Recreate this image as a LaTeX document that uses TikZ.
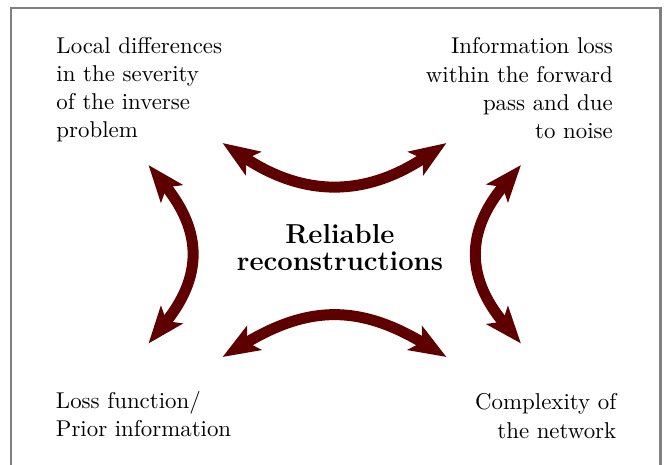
\documentclass[tikz,border=0pt]{standalone}
\usetikzlibrary{arrows.meta}
\definecolor{arrowred}{RGB}{94,0,0}
\definecolor{framegray}{RGB}{128,128,128}
\begin{document}
\begin{tikzpicture}[x=0.4373pt, y=-0.4373pt,
  lbl/.style={inner sep=0pt, font=\fontsize{10}{12.3}\selectfont},
  title/.style={inner sep=0pt, align=center, font=\bfseries\fontsize{12}{11.8}\selectfont},
  arr/.style={draw=arrowred, line width=4.8pt,
    arrows={Stealth[length=16pt,width=12pt,inset=3.5pt]-Stealth[length=16pt,width=12pt,inset=3.5pt]}},
  framebox/.style={draw=framegray, line width=1.1pt}]
\useasboundingbox (0,0) rectangle (667,464);
\draw[framebox] (11,8) rectangle (660.5,480);
% text blocks
\node[lbl, align=left, anchor=north west] (tl) at (56,36.6)
  {Local differences\\in the severity\\of the inverse\\problem};
\node[lbl, align=right, anchor=north east] (tr) at (613.3,37.4)
  {Information loss\\within the forward\\pass and due\\to noise};
\node[lbl, align=left, anchor=north west] (bl) at (55.5,391)
  {Loss function/\\Prior information};
\node[lbl, align=right, anchor=north east] (br) at (616.7,393.4)
  {Complexity of\\the network};
\node[title, anchor=north] (c) at (340,224) {Reliable\\reconstructions};
% arrow end points
\coordinate (t1) at (222.5,143);
\coordinate (t2) at (446.5,143);
\coordinate (b1) at (222.5,357);
\coordinate (b2) at (446.5,357);
\coordinate (l1) at (148.5,165);
\coordinate (l2) at (148.5,343.5);
\coordinate (r1) at (521,165);
\coordinate (r2) at (521,343.5);
% arrows
\draw[arr] (t1) .. controls +(81.6,54) and +(-81.6,54) .. (t2);
\draw[arr] (b1) .. controls +(86.5,-52) and +(-86.5,-52) .. (b2);
\draw[arr] (l1) .. controls +(54,66.7) and +(54,-66.7) .. (l2);
\draw[arr] (r1) .. controls +(-55.3,65.9) and +(-55.3,-65.9) .. (r2);
\end{tikzpicture}
\end{document}
